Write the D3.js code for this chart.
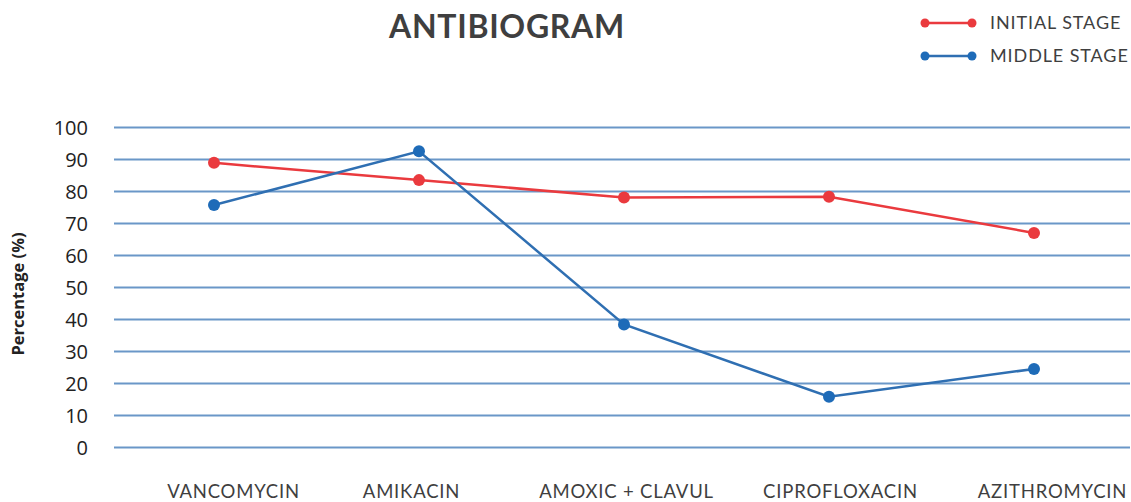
<!DOCTYPE html>
<html>
<head>
<meta charset="utf-8">
<script src="https://cdn.jsdelivr.net/npm/d3@7"></script>
<style>
  body { margin: 0; background: #fff; }
  svg { display: block; }
</style>
</head>
<body>
<div id="wrapper"></div>
<script>
// data
const drugs = ["VANCOMYCIN", "AMIKACIN", "AMOXIC + CLAVUL", "CIPROFLOXACIN", "AZITHROMYCIN"]
const initialStage = [88.8, 83.4, 78.0, 78.2, 66.9]
const middleStage = [75.6, 92.4, 38.3, 15.7, 24.4]
const yTicks = [0, 10, 20, 30, 40, 50, 60, 70, 80, 90, 100]
const seriesNames = ["INITIAL STAGE", "MIDDLE STAGE"]

const colors = { initial: "#ea3a3e", middle: "#2f6fb2", middleDot: "#1e6bb8", grid: "#6a97c8", text: "#3f3f3f" }

// dimensions
const width = 1131, height = 502
const plot = { left: 114, right: 1130, top: 127, bottom: 447 }

const svg = d3.select("#wrapper").append("svg")
    .attr("width", width)
    .attr("height", height)

const xScale = d3.scalePoint()
    .domain(drugs)
    .range([214, 1034])

const yScale = d3.scaleLinear()
    .domain([0, 100])
    .range([plot.bottom, plot.top])

// grid lines via axis
const yGrid = d3.axisLeft(yScale)
    .tickValues(yTicks)
    .tickSize(-(plot.right - plot.left))
    .tickFormat("")

svg.append("g")
    .attr("transform", `translate(${plot.left},0)`)
    .call(yGrid)
    .call(g => g.select(".domain").remove())
    .call(g => g.selectAll("line").attr("stroke", colors.grid).attr("stroke-width", 1.8))

// y tick labels
const yAxis = d3.axisLeft(yScale)
    .tickValues(yTicks)
    .tickSize(0)
    .tickPadding(0)

svg.append("g")
    .attr("transform", `translate(88,0)`)
    .call(yAxis)
    .call(g => g.select(".domain").remove())
    .call(g => g.selectAll("text")
        .attr("fill", "#222")
        .attr("dy", "0.36em")
        .style("font-family", "'Open Sans', sans-serif")
        .style("font-size", "20px"))

// x labels (nudged to where the reference puts them)
const labelShift = [19, -8, 2, 11, 18]
const xAxis = d3.axisBottom(xScale).tickSize(0).tickPadding(0)
svg.append("g")
    .attr("transform", `translate(0,484)`)
    .call(xAxis)
    .call(g => g.select(".domain").remove())
    .call(g => g.selectAll("text")
        .attr("x", (d, i) => labelShift[i])
        .attr("fill", colors.text)
        .attr("dy", "0.75em")
        .style("font-family", "Lato, sans-serif")
        .style("font-size", "18.5px")
        .style("letter-spacing", "0.8px"))

// y axis label
svg.append("text")
    .attr("transform", `translate(24,${(plot.top + plot.bottom) / 2 + 7}) rotate(-90)`)
    .attr("text-anchor", "middle")
    .attr("fill", "#222")
    .style("font-family", "'Open Sans', sans-serif")
    .style("font-weight", "bold")
    .style("font-size", "16.5px")
    .text("Percentage (%)")

// title
svg.append("text")
    .attr("x", 507)
    .attr("y", 38)
    .attr("text-anchor", "middle")
    .attr("fill", colors.text)
    .style("font-family", "Lato, sans-serif")
    .style("font-weight", "bold")
    .style("font-size", "32px")
    .style("letter-spacing", "0.7px")
    .text("ANTIBIOGRAM")

// lines
const line = d3.line()
    .x((d, i) => xScale(drugs[i]))
    .y(d => yScale(d))

const series = [
    { name: seriesNames[0], values: initialStage, color: colors.initial, dot: colors.initial },
    { name: seriesNames[1], values: middleStage, color: colors.middle, dot: colors.middleDot }
]

series.forEach(s => {
    svg.append("path")
        .datum(s.values)
        .attr("fill", "none")
        .attr("stroke", s.color)
        .attr("stroke-width", 2.5)
        .attr("d", line)

    svg.selectAll(null)
        .data(s.values)
        .enter()
        .append("circle")
        .attr("cx", (d, i) => xScale(drugs[i]))
        .attr("cy", d => yScale(d))
        .attr("r", 6)
        .attr("fill", s.dot)
})

// legend
const legend = svg.append("g")
series.forEach((s, i) => {
    const y = 23 + i * 33
    legend.append("line")
        .attr("x1", 925).attr("x2", 972)
        .attr("y1", y).attr("y2", y)
        .attr("stroke", s.color)
        .attr("stroke-width", 2.5)
    legend.append("circle").attr("cx", 925).attr("cy", y).attr("r", 4.5).attr("fill", s.dot)
    legend.append("circle").attr("cx", 972).attr("cy", y).attr("r", 4.5).attr("fill", s.dot)
    legend.append("text")
        .attr("x", 990)
        .attr("y", y)
        .attr("dy", "0.36em")
        .attr("fill", colors.text)
        .style("font-family", "Lato, sans-serif")
        .style("font-size", "18px")
        .style("letter-spacing", "0.9px")
        .text(s.name)
})
</script>
</body>
</html>
